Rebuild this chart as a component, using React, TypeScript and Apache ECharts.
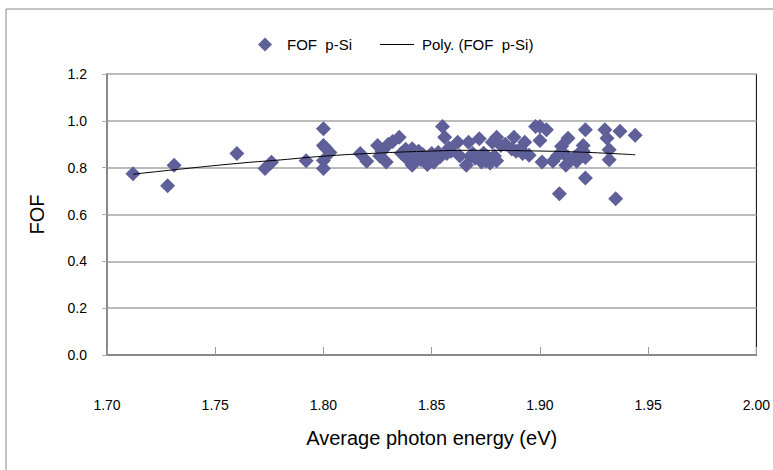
import React, { useEffect, useRef } from "react";
import * as echarts from "echarts";

const energy: number[] = [
  1.712, 1.728, 1.731, 1.76, 1.773, 1.776, 1.792, 1.8, 1.8, 1.8, 1.8, 1.801, 1.803,
  1.817, 1.82, 1.825, 1.827, 1.829, 1.832, 1.835, 1.838, 1.838, 1.841, 1.841, 1.843,
  1.845, 1.848, 1.85, 1.851, 1.854, 1.855, 1.856, 1.857, 1.858, 1.862, 1.866, 1.867,
  1.868, 1.872, 1.873, 1.874, 1.877, 1.878, 1.88, 1.882, 1.888, 1.889, 1.893, 1.895,
  1.898, 1.9, 1.9, 1.901, 1.903, 1.906, 1.909, 1.91, 1.911, 1.912, 1.913, 1.914, 1.917,
  1.92, 1.921, 1.921, 1.921, 1.93, 1.931, 1.932, 1.932, 1.935, 1.937, 1.944,
  1.836, 1.846, 1.852, 1.87, 1.876, 1.884, 1.891, 1.908, 1.916, 1.92,
  1.839, 1.844, 1.849, 1.853, 1.859, 1.863, 1.869, 1.875, 1.879, 1.88, 1.887, 1.892,
  1.913, 1.918, 1.83, 1.826,
];
const fof: number[] = [
  0.774, 0.723, 0.81, 0.86, 0.796, 0.823, 0.83, 0.966, 0.895, 0.831, 0.796, 0.884, 0.865,
  0.86, 0.827, 0.895, 0.87, 0.824, 0.912, 0.93, 0.879, 0.848, 0.881, 0.81, 0.848,
  0.834, 0.814, 0.86, 0.823, 0.848, 0.976, 0.93, 0.86, 0.884, 0.909, 0.81, 0.909,
  0.848, 0.923, 0.824, 0.862, 0.82, 0.909, 0.93, 0.895, 0.93, 0.87, 0.909, 0.853,
  0.976, 0.976, 0.916, 0.824, 0.962, 0.827, 0.689, 0.891, 0.86, 0.81, 0.926, 0.834, 0.827,
  0.895, 0.962, 0.843, 0.756, 0.962, 0.926, 0.877, 0.834, 0.667, 0.955, 0.938,
  0.862, 0.855, 0.838, 0.84, 0.845, 0.9, 0.88, 0.85, 0.845, 0.87,
  0.835, 0.87, 0.83, 0.865, 0.87, 0.85, 0.86, 0.83, 0.85, 0.83, 0.88, 0.86,
  0.845, 0.86, 0.9, 0.85,
];

const trendEnergy: number[] = [1.712, 1.73, 1.76, 1.78, 1.8, 1.82, 1.85, 1.87, 1.9, 1.92, 1.944];
const trendFof: number[] = [0.772, 0.79, 0.818, 0.833, 0.849, 0.86, 0.871, 0.874, 0.871, 0.866, 0.855];

const xTicks = { min: 1.7, max: 2.0, step: 0.05 };
const yTicks = { min: 0, max: 1.2, step: 0.2 };

const seriesName = "FOF  p-Si";
const trendName = "Poly. (FOF  p-Si)";

const FONT = "'Liberation Sans', Arial, sans-serif";
const MARK = "#5f5f99";

export default function App() {
  const ref = useRef<HTMLDivElement>(null);
  useEffect(() => {
    if (!ref.current) return;
    const chart = echarts.init(ref.current, null, { renderer: "svg" });
    chart.setOption({
      animation: false,
      backgroundColor: "#fff",
      textStyle: { fontFamily: FONT },
      graphic: [
        {
          type: "rect",
          shape: { x: 6, y: 9, width: 820, height: 520 },
          style: { fill: "none", stroke: "#888", lineWidth: 1 },
          silent: true,
        },
      ],
      legend: [
        {
          left: 258,
          top: 37,
          padding: 0,
          itemWidth: 14,
          itemHeight: 14,
          itemGap: 0,
          textStyle: { fontSize: 15, color: "#000", fontFamily: FONT, padding: [0, 0, 0, 10] },
          data: [{ name: seriesName, icon: "diamond", itemStyle: { color: MARK } }],
        },
        {
          left: 380,
          top: 37,
          padding: 0,
          itemWidth: 34,
          itemHeight: 1.2,
          itemGap: 0,
          textStyle: { fontSize: 15, color: "#000", fontFamily: FONT, padding: [0, 0, 0, 3] },
          data: [{ name: trendName, icon: "rect", itemStyle: { color: "#000" } }],
        },
      ],
      grid: {
        left: 107,
        top: 74,
        width: 664,
        height: 281,
        show: true,
        borderColor: "#000",
        borderWidth: 1,
        backgroundColor: "transparent",
      },
      xAxis: {
        type: "value",
        min: xTicks.min,
        max: xTicks.max,
        interval: xTicks.step,
        name: "Average photon energy (eV)",
        nameLocation: "middle",
        nameGap: 73,
        nameTextStyle: { fontSize: 20, color: "#000", fontFamily: FONT },
        axisLine: { show: true, lineStyle: { color: "#888", width: 2 } },
        axisTick: { show: true, inside: true, length: 8, lineStyle: { color: "#999" } },
        axisLabel: {
          margin: 43,
          fontSize: 14,
          color: "#000",
          formatter: (v: number) => v.toFixed(2),
        },
        splitLine: { show: false },
      },
      yAxis: {
        type: "value",
        min: yTicks.min,
        max: yTicks.max,
        interval: yTicks.step,
        name: "FOF",
        nameLocation: "middle",
        nameRotate: 90,
        nameGap: 60,
        nameTextStyle: { fontSize: 20, color: "#000", fontFamily: FONT },
        axisLine: { show: true, lineStyle: { color: "#888", width: 2 } },
        axisTick: { show: true, inside: false, length: 5, lineStyle: { color: "#aaa" } },
        axisLabel: {
          margin: 20,
          fontSize: 14,
          color: "#000",
          formatter: (v: number) => v.toFixed(1),
        },
        splitLine: { show: true, lineStyle: { color: "#bbb", width: 2 } },
      },
      series: [
        {
          name: seriesName,
          type: "scatter",
          symbol: "diamond",
          symbolSize: 15,
          itemStyle: { color: MARK, opacity: 1 },
          data: energy.map((e, i) => [e, fof[i]]),
          z: 2,
        },
        {
          name: trendName,
          type: "line",
          symbol: "none",
          smooth: true,
          lineStyle: { color: "#000", width: 1 },
          itemStyle: { color: "#000" },
          data: trendEnergy.map((e, i) => [e, trendFof[i]]),
          z: 3,
        },
      ],
    });
    return () => chart.dispose();
  }, []);
  return (
    <div
      ref={ref}
      style={{ position: "absolute", left: 0, top: 0, width: 773, height: 470 }}
    />
  );
}
